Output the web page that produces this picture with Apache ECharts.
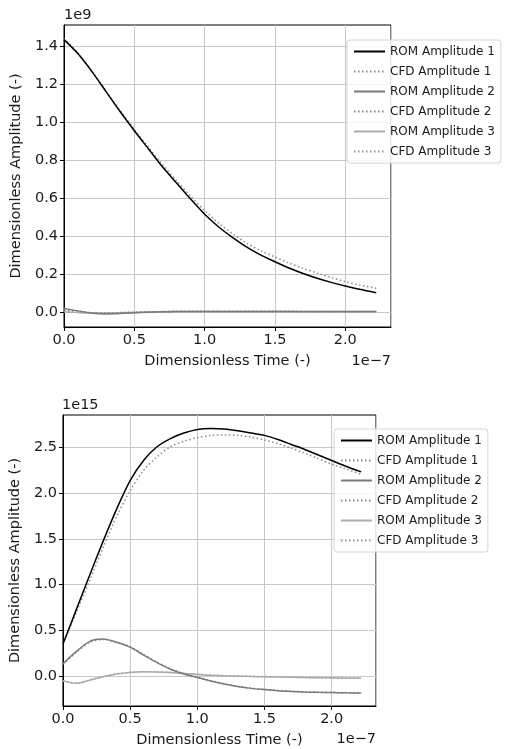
<!DOCTYPE html>
<html lang="en">
<head>
    <meta charset="UTF-8">
    <title>ROM vs CFD amplitudes</title>
    <script src="https://cdn.jsdelivr.net/npm/echarts@6/dist/echarts.min.js"></script>
    <style>
        html, body { margin: 0; padding: 0; background: #fff; }
        #chart { width: 513px; height: 749px; }
    </style>
</head>
<body>
<div id="chart"></div>
<script>
    // time axis, in units of 1e-7
    var time = [0, 0.1, 0.2, 0.3, 0.4, 0.5, 0.6, 0.7, 0.8, 0.9, 1.0, 1.1, 1.2, 1.3, 1.4, 1.5, 1.6, 1.7, 1.8, 1.9, 2.0, 2.1, 2.22];

    // upper plot, amplitudes in units of 1e9
    var romA1 = [1.435, 1.36, 1.265, 1.16, 1.055, 0.955, 0.86, 0.765, 0.68, 0.595, 0.515, 0.448, 0.392, 0.342, 0.30, 0.265, 0.232, 0.203, 0.178, 0.156, 0.137, 0.12, 0.102];
    var cfdA1 = [1.44, 1.363, 1.268, 1.163, 1.06, 0.962, 0.868, 0.777, 0.692, 0.61, 0.535, 0.468, 0.412, 0.362, 0.322, 0.29, 0.258, 0.23, 0.205, 0.182, 0.16, 0.142, 0.125];
    var romA2 = [0.018, 0.006, -0.006, -0.01, -0.008, -0.004, -0.001, 0.001, 0.002, 0.003, 0.003, 0.003, 0.003, 0.003, 0.003, 0.003, 0.003, 0.002, 0.002, 0.002, 0.002, 0.002, 0.002];
    var cfdA2 = [0.012, 0.004, -0.004, -0.007, -0.006, -0.003, 0, 0.002, 0.003, 0.003, 0.003, 0.003, 0.003, 0.003, 0.003, 0.003, 0.003, 0.003, 0.002, 0.002, 0.002, 0.002, 0.002];
    var romA3 = [0.002, -0.003, -0.006, -0.006, -0.004, -0.002, 0, 0.001, 0.002, 0.002, 0.002, 0.002, 0.002, 0.002, 0.002, 0.002, 0.002, 0.001, 0.001, 0.001, 0.001, 0.001, 0.001];
    var cfdA3 = [0, -0.002, -0.004, -0.005, -0.003, -0.001, 0.001, 0.002, 0.002, 0.002, 0.002, 0.002, 0.002, 0.002, 0.002, 0.002, 0.002, 0.002, 0.001, 0.001, 0.001, 0.001, 0.001];

    // lower plot, amplitudes in units of 1e15
    var romB1 = [0.35, 0.73, 1.11, 1.48, 1.83, 2.14, 2.36, 2.51, 2.6, 2.66, 2.70, 2.71, 2.705, 2.685, 2.66, 2.635, 2.59, 2.535, 2.48, 2.42, 2.36, 2.30, 2.235];
    var cfdB1 = [0.35, 0.70, 1.05, 1.41, 1.75, 2.03, 2.25, 2.40, 2.51, 2.57, 2.61, 2.635, 2.64, 2.635, 2.615, 2.585, 2.545, 2.495, 2.44, 2.38, 2.32, 2.27, 2.21];
    var romB2 = [0.135, 0.27, 0.38, 0.405, 0.37, 0.316, 0.23, 0.147, 0.074, 0.022, -0.015, -0.055, -0.088, -0.115, -0.135, -0.148, -0.16, -0.168, -0.174, -0.178, -0.181, -0.184, -0.186];
    var cfdB2 = [0.13, 0.26, 0.37, 0.40, 0.37, 0.32, 0.235, 0.152, 0.08, 0.028, -0.01, -0.05, -0.085, -0.113, -0.133, -0.147, -0.158, -0.167, -0.173, -0.177, -0.18, -0.183, -0.185];
    var romB3 = [-0.05, -0.08, -0.045, -0.007, 0.022, 0.04, 0.047, 0.045, 0.038, 0.028, 0.017, 0.008, 0.002, -0.002, -0.005, -0.008, -0.011, -0.014, -0.017, -0.019, -0.021, -0.023, -0.025];
    var cfdB3 = [-0.055, -0.078, -0.042, -0.004, 0.024, 0.041, 0.047, 0.045, 0.039, 0.03, 0.02, 0.011, 0.004, 0, -0.003, -0.006, -0.009, -0.012, -0.015, -0.017, -0.019, -0.021, -0.023];

    // tick values of the y axes
    var ticksA = [0.0, 0.2, 0.4, 0.6, 0.8, 1.0, 1.2, 1.4];
    var ticksB = [0.0, 0.5, 1.0, 1.5, 2.0, 2.5];

    var names = ['ROM Amplitude 1', 'CFD Amplitude 1', 'ROM Amplitude 2', 'CFD Amplitude 2', 'ROM Amplitude 3', 'CFD Amplitude 3'];
    var colors = ['#000000', '#8a8a8a', '#7a7a7a', '#808080', '#ababab', '#8f8f8f'];
    var dotted = [false, true, false, true, false, true];

    var FONT = 'DejaVu Sans';

    function pairs(ys) {
        return time.map(function (t, i) { return [t, ys[i]]; });
    }

    function makeSeries(list, axisIndex) {
        return list.map(function (ys, i) {
            return {
                name: names[i],
                type: 'line',
                xAxisIndex: axisIndex,
                yAxisIndex: axisIndex,
                data: pairs(ys),
                smooth: 0.3,
                symbol: 'none',
                legendIcon: 'none',
                z: 10 - i,
                lineStyle: {
                    color: colors[i],
                    width: 1.5,
                    type: dotted[i] ? [1.5, 2.5] : 'solid'
                },
                itemStyle: { color: colors[i] }
            };
        });
    }

    function xAxis(idx, max) {
        return {
            type: 'value', gridIndex: idx, min: 0, max: max, interval: 0.5,
            name: 'Dimensionless Time (-)', nameLocation: 'middle', nameGap: 27,
            nameTextStyle: { fontFamily: FONT, fontSize: 14.5, color: '#1a1a1a' },
            axisLine: { onZero: false, lineStyle: { color: '#000', width: 1 } },
            axisTick: { length: 4, lineStyle: { color: '#000' } },
            axisLabel: {
                fontFamily: FONT, fontSize: 14.5, color: '#1a1a1a', margin: 6,
                showMaxLabel: false,
                formatter: function (v) { return v.toFixed(1); }
            },
            splitLine: { show: true, lineStyle: { color: '#c8c8c8', width: 1 } }
        };
    }

    function yAxis(idx, min, max, ticks, gap) {
        return {
            type: 'value', gridIndex: idx, min: min, max: max,
            name: 'Dimensionless Amplitude (-)', nameLocation: 'middle', nameGap: gap, nameRotate: 90,
            nameTextStyle: { fontFamily: FONT, fontSize: 14.5, color: '#1a1a1a' },
            axisLine: { show: true, onZero: false, lineStyle: { color: '#000', width: 1 } },
            axisTick: { show: true, length: 4, customValues: ticks, lineStyle: { color: '#000' } },
            axisLabel: {
                fontFamily: FONT, fontSize: 14.5, color: '#1a1a1a', margin: 6,
                customValues: ticks,
                formatter: function (v) { return v.toFixed(1); }
            },
            splitLine: { show: true, lineStyle: { color: '#c8c8c8', width: 1 } }
        };
    }

    function legend(left, top) {
        return {
            left: left, top: top, orient: 'vertical',
            data: names, selectedMode: false,
            itemWidth: 31, itemHeight: 10, itemGap: 5,
            padding: [4, 6, 4, 6],
            backgroundColor: 'rgba(255,255,255,0.8)',
            borderColor: '#d4d4d4', borderWidth: 1, borderRadius: 3,
            itemStyle: { opacity: 0 },
            textStyle: { fontFamily: FONT, fontSize: 12, color: '#1a1a1a', lineHeight: 15 }
        };
    }

    var chart = echarts.init(document.getElementById('chart'), null, { renderer: 'canvas' });

    var option = {
        backgroundColor: '#fff',
        animation: false,
        grid: [
            { left: 64, top: 25, width: 327, height: 302, show: true, borderColor: '#000', borderWidth: 1, backgroundColor: 'transparent' },
            { left: 62, top: 415, width: 314, height: 291, show: true, borderColor: '#000', borderWidth: 1, backgroundColor: 'transparent' }
        ],
        xAxis: [xAxis(0, 2.325), xAxis(1, 2.33)],
        yAxis: [yAxis(0, -0.079, 1.512, ticksA, 37), yAxis(1, -0.328, 2.858, ticksB, 35)],
        legend: [legend(347, 40), legend(334, 429)],
        graphic: [
            { type: 'text', left: 64, top: 8, style: { text: '1e9', font: '14.5px "DejaVu Sans"', fill: '#1a1a1a' } },
            { type: 'text', right: 122, top: 354, style: { text: '1e\u22127', font: '14.5px "DejaVu Sans"', fill: '#1a1a1a' } },
            { type: 'text', left: 62, top: 398, style: { text: '1e15', font: '14.5px "DejaVu Sans"', fill: '#1a1a1a' } },
            { type: 'text', right: 137, top: 732, style: { text: '1e\u22127', font: '14.5px "DejaVu Sans"', fill: '#1a1a1a' } }
        ],
        series: makeSeries([romA1, cfdA1, romA2, cfdA2, romA3, cfdA3], 0)
            .concat(makeSeries([romB1, cfdB1, romB2, cfdB2, romB3, cfdB3], 1))
    };

    chart.setOption(option);
</script>
</body>
</html>
